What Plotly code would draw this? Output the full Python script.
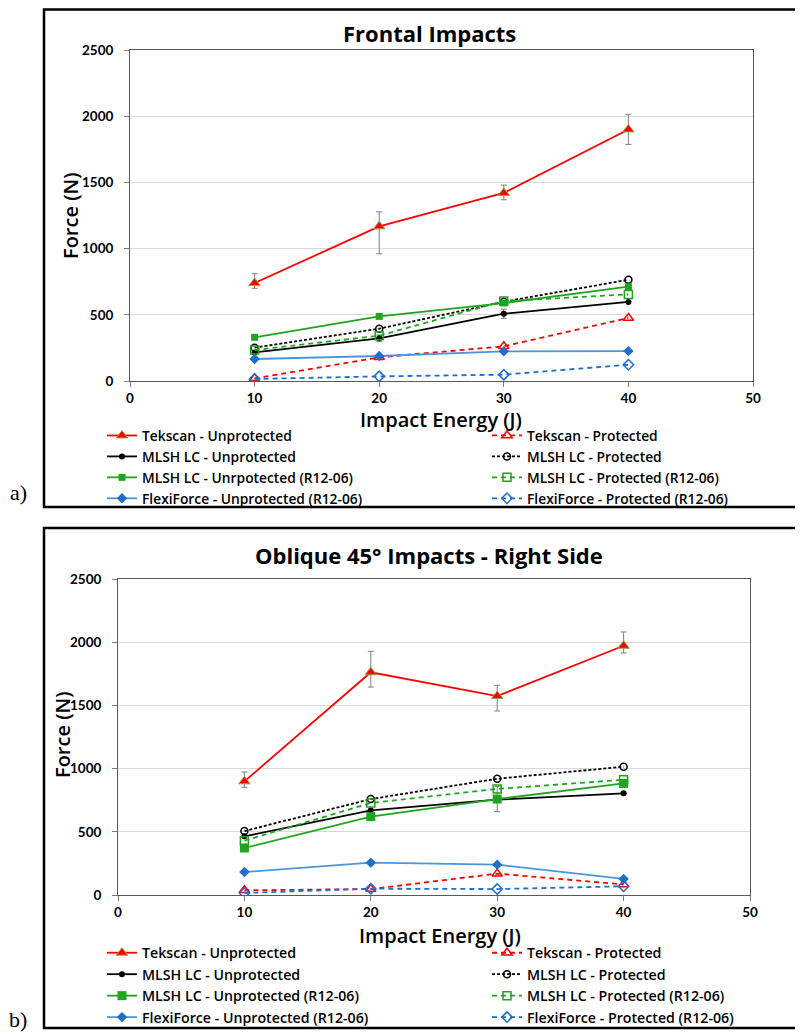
import plotly.graph_objects as go

PAGE_W, PAGE_H = 803, 1034
OFF = 8  # default page body margin
W, H = PAGE_W - OFF, PAGE_H - OFF

energy = [10, 20, 30, 40]

series_names = [
    "Tekscan - Unprotected", "Tekscan - Protected",
    "MLSH LC - Unprotected", "MLSH LC - Protected",
    "MLSH LC - Unrpotected (R12-06)", "MLSH LC - Protected (R12-06)",
    "FlexiForce - Unprotected (R12-06)", "FlexiForce - Protected (R12-06)",
]
series_names_b = list(series_names)
series_names_b[4] = "MLSH LC - Unprotected (R12-06)"

# Panel a: Frontal impacts
a_tek_unp = [740, 1168, 1420, 1900]
a_tek_unp_plus = [70, 110, 60, 114]
a_tek_unp_minus = [40, 207, 51, 113]
a_tek_pro = [20, 179, 262, 476]
a_mlsh_unp = [216, 322, 508, 597]
a_mlsh_unp_err = [0, 25, 35, 0]
a_mlsh_pro = [252, 395, 599, 765]
a_grn_unp = [330, 488, 589, 712]
a_grn_pro = [234, 342, 604, 654]
a_flx_unp = [166, 189, 224, 226]
a_flx_pro = [15, 35, 48, 123]

# Panel b: Oblique 45 deg impacts - right side
b_tek_unp = [899, 1762, 1574, 1972]
b_tek_unp_plus = [74, 166, 85, 109]
b_tek_unp_minus = [47, 117, 118, 57]
b_tek_pro = [37, 47, 169, 84]
b_mlsh_unp = [464, 670, 754, 804]
b_mlsh_pro = [506, 759, 920, 1015]
b_grn_unp = [372, 620, 759, 883]
b_grn_unp_plus = [0, 0, 101, 0]
b_grn_unp_minus = [0, 0, 100, 0]
b_grn_pro = [430, 728, 839, 912]
b_flx_unp = [182, 256, 240, 127]
b_flx_pro = [16, 50, 47, 69]

x_ticks = [0, 10, 20, 30, 40, 50]
y_ticks = [0, 500, 1000, 1500, 2000, 2500]

RED = "#FF0000"
BLACK = "#000000"
GREEN = "#1FA51F"
BLUE_L = "#4A95DE"
BLUE_M = "#1E6FC8"
ERR = "#7F7F7F"
FONT = "Open Sans"
TICKFONT = "Lato"


def px_x(p):
    return (p - OFF) / W


def px_y(p):
    return 1 - (p - OFF) / H


fig = go.Figure()


def add_panel(xa, ya, leg_left, leg_right, names, data, big_sq):
    (tu, tu_p, tu_m, tp, mu, mu_p, mu_m, mp, gu, gu_p, gu_m, gp, fu, fp) = data
    sq = 9 if big_sq else 7
    specs = [
        dict(y=tu, name=names[0], legend=leg_left, line=dict(color=RED, width=1.8),
             marker=dict(symbol="triangle-up", size=10, color=RED,
                         line=dict(color="#8FA648", width=1)),
             error_y=dict(type="data", array=tu_p, arrayminus=tu_m, symmetric=False,
                          color=ERR, thickness=1, width=3)),
        dict(y=tp, name=names[1], legend=leg_right,
             line=dict(color=RED, width=1.8, dash="5px,4px"),
             marker=dict(symbol="triangle-up-open", size=9, color=RED, line=dict(width=1.5))),
        dict(y=mu, name=names[2], legend=leg_left, line=dict(color=BLACK, width=1.8),
             marker=dict(symbol="circle", size=6, color=BLACK),
             error_y=dict(type="data", array=mu_p, arrayminus=mu_m, symmetric=False,
                          color=ERR, thickness=1, width=3)),
        dict(y=mp, name=names[3], legend=leg_right,
             line=dict(color=BLACK, width=1.8, dash="3px,2px"),
             marker=dict(symbol="circle-open", size=7, color=BLACK, line=dict(width=1.5))),
        dict(y=gu, name=names[4], legend=leg_left, line=dict(color=GREEN, width=1.8),
             marker=dict(symbol="square", size=sq, color=GREEN),
             error_y=dict(type="data", array=gu_p, arrayminus=gu_m, symmetric=False,
                          color=ERR, thickness=1, width=3)),
        dict(y=gp, name=names[5], legend=leg_right,
             line=dict(color=GREEN, width=1.8, dash="5px,4px"),
             marker=dict(symbol="square-open", size=8, color=GREEN, line=dict(width=1.5))),
        dict(y=fu, name=names[6], legend=leg_left, line=dict(color=BLUE_L, width=1.8),
             marker=dict(symbol="diamond", size=8, color=BLUE_M)),
        dict(y=fp, name=names[7], legend=leg_right,
             line=dict(color=BLUE_M, width=1.8, dash="5px,4px"),
             marker=dict(symbol="diamond-open", size=8, color=BLUE_M, line=dict(width=1.5))),
    ]
    for s in specs:
        fig.add_trace(go.Scatter(x=energy, mode="lines+markers", xaxis=xa, yaxis=ya, **s))


add_panel("x", "y", "legend", "legend2", series_names,
          (a_tek_unp, a_tek_unp_plus, a_tek_unp_minus, a_tek_pro,
           a_mlsh_unp, a_mlsh_unp_err, a_mlsh_unp_err, a_mlsh_pro,
           a_grn_unp, [0, 0, 0, 0], [0, 0, 0, 0], a_grn_pro,
           a_flx_unp, a_flx_pro), False)
add_panel("x2", "y2", "legend3", "legend4", series_names_b,
          (b_tek_unp, b_tek_unp_plus, b_tek_unp_minus, b_tek_pro,
           b_mlsh_unp, [0, 0, 0, 0], [0, 0, 0, 0], b_mlsh_pro,
           b_grn_unp, b_grn_unp_plus, b_grn_unp_minus, b_grn_pro,
           b_flx_unp, b_flx_pro), True)

tickfont = dict(family=TICKFONT, size=13.5, color="#000000", weight="bold")
axis_common = dict(showline=True, mirror=True, linecolor="#595959", linewidth=1,
                   ticks="outside", ticklen=5, tickcolor="#7F7F7F", tickfont=tickfont,
                   zeroline=False, automargin=False)


def legend_cfg(x_px, y_px, size):
    return dict(orientation="v", x=px_x(x_px), y=px_y(y_px), xanchor="left", yanchor="top",
                bgcolor="rgba(0,0,0,0)", borderwidth=0, tracegroupgap=0, itemwidth=30,
                font=dict(family=FONT, size=size, color="black", weight=600))


fig.update_layout(
    width=W, height=H,
    margin=dict(l=0, r=0, t=0, b=0, autoexpand=False),
    paper_bgcolor="white", plot_bgcolor="white",
    font=dict(family=FONT, color="black"),
    xaxis=dict(domain=[px_x(130), px_x(753)], range=[0, 50], tickvals=x_ticks,
               showgrid=False, anchor="y", ticklabelstandoff=0, **axis_common),
    yaxis=dict(domain=[px_y(381), px_y(50)], range=[0, 2500], tickvals=y_ticks,
               showgrid=True, gridcolor="#D9D9D9", gridwidth=1, anchor="x",
               ticklabelstandoff=8, **axis_common),
    xaxis2=dict(domain=[px_x(118), px_x(750)], range=[0, 50], tickvals=x_ticks,
                showgrid=False, anchor="y2", ticklabelstandoff=0, **axis_common),
    yaxis2=dict(domain=[px_y(895), px_y(579)], range=[0, 2500], tickvals=y_ticks,
                showgrid=True, gridcolor="#D9D9D9", gridwidth=1, anchor="x2",
                ticklabelstandoff=8, **axis_common),
    legend=legend_cfg(102, 420, 13.8),
    legend2=legend_cfg(487, 420, 13.8),
    legend3=legend_cfg(102, 937, 14.2),
    legend4=legend_cfg(487, 937, 14.2),
    showlegend=True,
)

ann_font_title = dict(family=FONT, size=22, color="black", weight="bold")
ann_font_axis = dict(family=FONT, size=20, color="black", weight=600)
label_font = dict(family="Liberation Serif", size=22, color="black")

annotations = [
    dict(text="Frontal Impacts", x=px_x(429), y=px_y(33), font=ann_font_title),
    dict(text="Oblique 45° Impacts - Right Side", x=px_x(429), y=px_y(555), font=ann_font_title),
    dict(text="Impact Energy (J)", x=px_x(441), y=px_y(419), font=ann_font_axis),
    dict(text="Impact Energy (J)", x=px_x(440), y=px_y(935), font=ann_font_axis),
    dict(text="Force (N)", x=px_x(70), y=px_y(216), font=ann_font_axis, textangle=-90),
    dict(text="Force (N)", x=px_x(62), y=px_y(735), font=ann_font_axis, textangle=-90),
    dict(text="a)", x=px_x(18), y=px_y(492), font=label_font),
    dict(text="b)", x=px_x(18), y=px_y(1019), font=label_font),
]
for a in annotations:
    fig.add_annotation(xref="paper", yref="paper", showarrow=False,
                       xanchor="center", yanchor="middle", **a)

boxes = [(44, 9.4, 815, 507), (44, 528, 815, 1028)]
for (x0, y0, x1, y1) in boxes:
    fig.add_shape(type="rect", xref="paper", yref="paper",
                  x0=px_x(x0), x1=px_x(x1), y0=px_y(y1), y1=px_y(y0),
                  line=dict(color="black", width=2.5), fillcolor="rgba(0,0,0,0)",
                  layer="above")

fig.write_html("out.html")
